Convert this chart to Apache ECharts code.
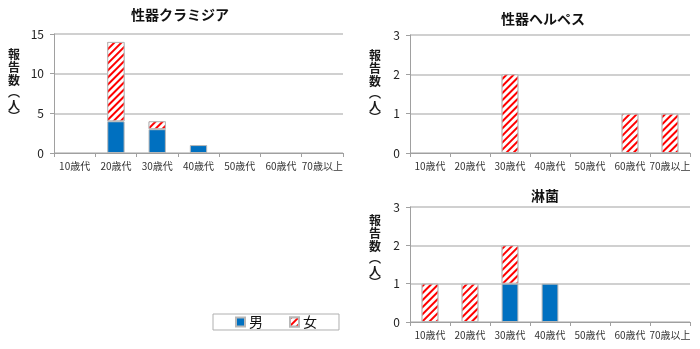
<!DOCTYPE html>
<html><head><meta charset="utf-8">
<script src="https://cdn.jsdelivr.net/npm/echarts@6/dist/echarts.min.js"></script>
<style>html,body{margin:0;padding:0;background:#fff}#c{width:700px;height:349px}</style>
</head><body><div id="c"></div>
<script>
const categories = ['10歳代','20歳代','30歳代','40歳代','50歳代','60歳代','70歳以上'];
const titles = ['性器クラミジア','性器ヘルペス','淋菌'];
const yName = ['報','告','数','︵','人','︶'];
const chlamydiaMale = [0,4,3,1,0,0,0];
const chlamydiaFemale = [0,10,1,0,0,0,0];
const herpesMale = [0,0,0,0,0,0,0];
const herpesFemale = [0,0,2,0,0,1,1];
const gonorrheaMale = [0,0,1,1,0,0,0];
const gonorrheaFemale = [1,1,1,0,0,0,0];
const yMax = [15,3,3];
const yInterval = [5,1,1];
const legendNames = ['男','女'];

const FONT = '"Noto Sans CJK JP", sans-serif';
const chart = echarts.init(document.getElementById('c'), null, {renderer:'canvas'});
const grids = [
  {left:54, right:357, top:34, bottom:196},
  {left:410, right:10, top:35, bottom:196},
  {left:410, right:10, top:207, bottom:27}
];
const maleStyle = {color:'#0070C0', borderColor:'#b8b8b8', borderWidth:1};
const femaleStyle = {color:'#ffffff', borderColor:'#b8b8b8', borderWidth:1,
  decal:{symbol:'rect', symbolSize:1, dashArrayX:[1,0], dashArrayY:[2,2.5], rotation:-Math.PI/4, color:'#ff0000', backgroundColor:'#ffffff'}};
const z2n = a => a.map(v => v === 0 ? '-' : v);
const males = [chlamydiaMale, herpesMale, gonorrheaMale];
const females = [chlamydiaFemale, herpesFemale, gonorrheaFemale];

const xAxis = grids.map((g,i) => ({
  type:'category', gridIndex:i, data:categories,
  axisLine:{lineStyle:{color:'#a0a0a0'}},
  axisTick:{show:true, alignWithLabel:false, length:4, lineStyle:{color:'#a0a0a0'}},
  axisLabel:{fontSize:10, color:'#333', fontFamily:FONT, margin:8, interval:0}
}));
const yAxis = grids.map((g,i) => ({
  type:'value', gridIndex:i, min:0, max:yMax[i], interval:yInterval[i],
  axisLine:{show:true, lineStyle:{color:'#a0a0a0'}},
  axisTick:{show:true, length:4, lineStyle:{color:'#a0a0a0'}},
  axisLabel:{fontSize:12, color:'#222', fontFamily:FONT, margin:10},
  splitLine:{lineStyle:{color:'#c0c0c0', width:1.5}}
}));
const series = [];
for (let i=0;i<3;i++){
  series.push({name:legendNames[0], type:'bar', stack:'s'+i, xAxisIndex:i, yAxisIndex:i,
    data:z2n(males[i]), barWidth:'42%', itemStyle:maleStyle});
  series.push({name:legendNames[1], type:'bar', stack:'s'+i, xAxisIndex:i, yAxisIndex:i,
    data:z2n(females[i]), barWidth:'42%', itemStyle:femaleStyle});
}
const titlePos = [[180,15],[543,19],[545,196]];
const yNameX = [14,375,375];
const yNameY = [54,55,220];
const charY = [0,13,26,38,51,62];
const graphic = [];
titles.forEach((t,i)=>{
  graphic.push({type:'text', x:titlePos[i][0], y:titlePos[i][1], style:{text:t, font:'bold 14px '+FONT, fill:'#111', textAlign:'center', textVerticalAlign:'middle'}});
  yName.forEach((ch,k)=>{
    graphic.push({type:'text', x:yNameX[i], y:yNameY[i]+charY[k], style:{text:ch, font:'bold 12px '+FONT, fill:'#1a1a1a', textAlign:'center', textVerticalAlign:'middle'}});
  });
});
chart.setOption({
  animation:false,
  grid:grids,
  xAxis, yAxis, series,
  graphic,
  legend:{data:legendNames.map(n=>({name:n, icon:'rect'})), left:213, top:314, height:18, borderColor:'#b0b0b0', borderWidth:1,
    padding:[1,22,1,22], itemGap:26, itemWidth:9, itemHeight:9,
    textStyle:{fontSize:14, color:'#111', fontFamily:FONT, padding:[0,0,0,-1]}}
});
</script></body></html>
